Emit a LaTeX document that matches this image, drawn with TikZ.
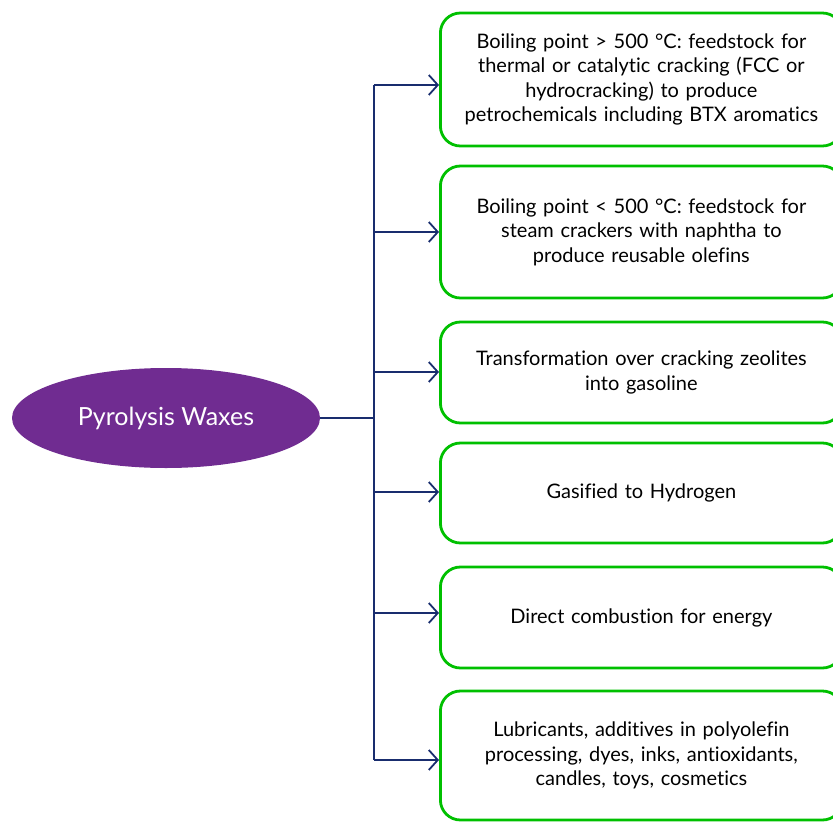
\documentclass[tikz,border=0pt]{standalone}
\usepackage{fontspec}
\setmainfont{Lato}[Ligatures=NoCommon]
\usetikzlibrary{arrows.meta,shapes.geometric}
\definecolor{boxgreen}{RGB}{0,192,0}
\definecolor{navy}{RGB}{25,45,110}
\definecolor{wax}{RGB}{112,44,145}
\tikzset{
  outbox/.style={draw=boxgreen, line width=2.8pt, rounded corners=20pt, fill=white,
    minimum width=402pt, align=center, font=\fontsize{20}{24.5}\selectfont, text width=390pt},
  arr/.style={draw=navy, line width=1.8pt, -{Straight Barb[length=9pt,width=20pt,line width=1.8pt]}},
  trunkline/.style={draw=navy, line width=1.8pt},
}
\begin{document}
\begin{tikzpicture}[x=1pt,y=-1pt]
\useasboundingbox (0,0) rectangle (833,822);
\begin{scope}
\clip (0,0) rectangle (833,822);
\node[ellipse, fill=wax, minimum width=308pt, minimum height=100pt, text=white,
  font=\fontsize{25}{28}\selectfont] (src) at (166,418) {Pyrolysis Waxes};
\node[outbox, minimum height=133pt, anchor=west] (b1) at (439,79.5) {Boiling point > 500 °C: feedstock for\\thermal or catalytic cracking (FCC or\\hydrocracking) to produce\\petrochemicals including BTX aromatics};
\node[outbox, minimum height=132pt, anchor=west] (b2) at (439,232) {Boiling point < 500 °C: feedstock for\\steam crackers with naphtha to\\produce reusable olefins};
\node[outbox, minimum height=101pt, anchor=west] (b3) at (439,372.5) {Transformation over cracking zeolites\\into gasoline};
\node[outbox, minimum height=100pt, anchor=west] (b4) at (439,493) {Gasified to Hydrogen};
\node[outbox, minimum height=101pt, anchor=west] (b5) at (439,617.5) {Direct combustion for energy};
\node[outbox, minimum height=129pt, anchor=west] (b6) at (439,755.5) {Lubricants, additives in polyolefin\\processing, dyes, inks, antioxidants,\\candles, toys, cosmetics};
\end{scope}
\coordinate (t1) at (374,85);
\coordinate (t2) at (374,232);
\coordinate (t3) at (374,372);
\coordinate (t4) at (374,492);
\coordinate (t5) at (374,613);
\coordinate (t6) at (374,760);
\coordinate (tm) at (374,418);
\draw[trunkline] (t1) -- (t6);
\draw[trunkline] (src.east) -- (tm);
\draw[arr] (t1) -- (t1 -| b1.west);
\draw[arr] (t2) -- (t2 -| b2.west);
\draw[arr] (t3) -- (t3 -| b3.west);
\draw[arr] (t4) -- (t4 -| b4.west);
\draw[arr] (t5) -- (t5 -| b5.west);
\draw[arr] (t6) -- (t6 -| b6.west);
\end{tikzpicture}
\end{document}
